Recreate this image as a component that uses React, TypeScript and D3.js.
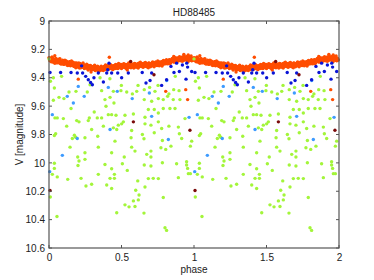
import React from "react";
import * as d3 from "d3";

// one cycle of [phase, V mag]; the plot shows it twice (phase 0-2)
const orangePts: number[][] = [
  [0.004, 9.262], [0.010, 9.281], [0.016, 9.270], [0.022, 9.255], [0.028, 9.290], [0.034, 9.273], [0.040, 9.284], [0.046, 9.266],
  [0.052, 9.295], [0.058, 9.278], [0.064, 9.288], [0.070, 9.270], [0.076, 9.300], [0.082, 9.283], [0.088, 9.294], [0.094, 9.276],
  [0.100, 9.305], [0.106, 9.288], [0.112, 9.298], [0.118, 9.281], [0.124, 9.310], [0.130, 9.292], [0.136, 9.303], [0.142, 9.286],
  [0.148, 9.316], [0.154, 9.297], [0.160, 9.308], [0.166, 9.291], [0.172, 9.320], [0.178, 9.302], [0.184, 9.313], [0.190, 9.296],
  [0.196, 9.325], [0.202, 9.306], [0.208, 9.318], [0.214, 9.300], [0.220, 9.330], [0.226, 9.311], [0.232, 9.322], [0.238, 9.306],
  [0.244, 9.335], [0.250, 9.316], [0.256, 9.327], [0.262, 9.310], [0.268, 9.338], [0.274, 9.320], [0.280, 9.331], [0.286, 9.314],
  [0.292, 9.343], [0.298, 9.324], [0.304, 9.336], [0.310, 9.318], [0.316, 9.346], [0.322, 9.328], [0.328, 9.340], [0.334, 9.322],
  [0.340, 9.350], [0.346, 9.330], [0.352, 9.341], [0.358, 9.323], [0.364, 9.345], [0.370, 9.327], [0.376, 9.338], [0.382, 9.320],
  [0.388, 9.342], [0.394, 9.324], [0.400, 9.335], [0.406, 9.316], [0.412, 9.338], [0.418, 9.320], [0.424, 9.331], [0.430, 9.313],
  [0.436, 9.336], [0.442, 9.318], [0.448, 9.329], [0.454, 9.311], [0.460, 9.334], [0.466, 9.325], [0.472, 9.308], [0.478, 9.331],
  [0.484, 9.314], [0.490, 9.325], [0.496, 9.307], [0.502, 9.330], [0.508, 9.312], [0.514, 9.323], [0.520, 9.305], [0.526, 9.328],
  [0.532, 9.311], [0.538, 9.322], [0.544, 9.304], [0.550, 9.327], [0.556, 9.309], [0.562, 9.320], [0.568, 9.302], [0.574, 9.325],
  [0.580, 9.308], [0.586, 9.319], [0.592, 9.301], [0.598, 9.324], [0.604, 9.307], [0.610, 9.318], [0.616, 9.300], [0.622, 9.323],
  [0.628, 9.306], [0.634, 9.317], [0.640, 9.299], [0.646, 9.322], [0.652, 9.305], [0.658, 9.316], [0.664, 9.298], [0.670, 9.320],
  [0.676, 9.303], [0.682, 9.314], [0.688, 9.296], [0.694, 9.318], [0.700, 9.301], [0.706, 9.312], [0.712, 9.294], [0.718, 9.316],
  [0.724, 9.299], [0.730, 9.309], [0.736, 9.291], [0.742, 9.313], [0.748, 9.296], [0.754, 9.306], [0.760, 9.288], [0.766, 9.310],
  [0.772, 9.292], [0.778, 9.302], [0.784, 9.284], [0.790, 9.305], [0.796, 9.287], [0.802, 9.297], [0.808, 9.279], [0.814, 9.300],
  [0.820, 9.282], [0.826, 9.292], [0.832, 9.274], [0.838, 9.295], [0.844, 9.277], [0.850, 9.286], [0.856, 9.268], [0.862, 9.289],
  [0.868, 9.271], [0.874, 9.281], [0.880, 9.263], [0.886, 9.284], [0.892, 9.266], [0.898, 9.276], [0.904, 9.258], [0.910, 9.280],
  [0.916, 9.262], [0.922, 9.272], [0.928, 9.254], [0.934, 9.276], [0.940, 9.259], [0.946, 9.270], [0.952, 9.252], [0.958, 9.276],
  [0.964, 9.260], [0.970, 9.271], [0.976, 9.255], [0.982, 9.279], [0.988, 9.262], [0.994, 9.273],
  [0.000, 9.258], [0.005, 9.279], [0.010, 9.269], [0.015, 9.288], [0.020, 9.256], [0.025, 9.277], [0.030, 9.287], [0.035, 9.270],
  [0.040, 9.298], [0.045, 9.278], [0.050, 9.266], [0.055, 9.287], [0.060, 9.295], [0.065, 9.274], [0.070, 9.288], [0.075, 9.265],
  [0.080, 9.295], [0.085, 9.304], [0.090, 9.283], [0.095, 9.289], [0.100, 9.279], [0.105, 9.305], [0.110, 9.276], [0.115, 9.300],
  [0.120, 9.297], [0.125, 9.287], [0.130, 9.314], [0.135, 9.295], [0.140, 9.308], [0.145, 9.286], [0.150, 9.305], [0.155, 9.282],
  [0.160, 9.314], [0.165, 9.304], [0.170, 9.298], [0.175, 9.321], [0.180, 9.296], [0.185, 9.329], [0.190, 9.304], [0.195, 9.318],
  [0.200, 9.316], [0.205, 9.296], [0.210, 9.331], [0.215, 9.310], [0.220, 9.305], [0.225, 9.327], [0.230, 9.316], [0.235, 9.296],
  [0.240, 9.326], [0.245, 9.333], [0.250, 9.314], [0.255, 9.324], [0.260, 9.305], [0.265, 9.333], [0.270, 9.345], [0.275, 9.313],
  [0.280, 9.328], [0.285, 9.323], [0.290, 9.343], [0.295, 9.321], [0.300, 9.343], [0.305, 9.320], [0.310, 9.335], [0.315, 9.312],
  [0.320, 9.349], [0.325, 9.330], [0.330, 9.342], [0.335, 9.319], [0.340, 9.335], [0.345, 9.354], [0.350, 9.328], [0.355, 9.345],
  [0.360, 9.318], [0.365, 9.338], [0.370, 9.331], [0.375, 9.349], [0.380, 9.320], [0.385, 9.337], [0.390, 9.309], [0.395, 9.332],
  [0.400, 9.323], [0.405, 9.344], [0.410, 9.314], [0.415, 9.329], [0.420, 9.336], [0.425, 9.308], [0.430, 9.332], [0.435, 9.322],
  [0.440, 9.343], [0.445, 9.315], [0.450, 9.323], [0.455, 9.335], [0.460, 9.307], [0.465, 9.328], [0.470, 9.314], [0.475, 9.335],
  [0.480, 9.300], [0.485, 9.324], [0.490, 9.328], [0.495, 9.307], [0.500, 9.335], [0.505, 9.314], [0.510, 9.326], [0.515, 9.301],
  [0.520, 9.318], [0.525, 9.330], [0.530, 9.306], [0.535, 9.337], [0.540, 9.310], [0.545, 9.319], [0.550, 9.296], [0.555, 9.325],
  [0.560, 9.314], [0.565, 9.330], [0.570, 9.302], [0.575, 9.319], [0.580, 9.306], [0.585, 9.332], [0.590, 9.299], [0.595, 9.313],
  [0.600, 9.304], [0.605, 9.325], [0.610, 9.310], [0.615, 9.331], [0.620, 9.297], [0.625, 9.318], [0.630, 9.290], [0.635, 9.314],
  [0.640, 9.321], [0.645, 9.305], [0.650, 9.326], [0.655, 9.298], [0.660, 9.311], [0.665, 9.293], [0.670, 9.317], [0.675, 9.322],
  [0.680, 9.305], [0.685, 9.329], [0.690, 9.298], [0.695, 9.312], [0.700, 9.322], [0.705, 9.299], [0.710, 9.309], [0.715, 9.288],
  [0.720, 9.315], [0.725, 9.323], [0.730, 9.301], [0.735, 9.291], [0.740, 9.309], [0.745, 9.314], [0.750, 9.282], [0.755, 9.301],
  [0.760, 9.315], [0.765, 9.293], [0.770, 9.305], [0.775, 9.286], [0.780, 9.317], [0.785, 9.293], [0.790, 9.278], [0.795, 9.298],
  [0.800, 9.285], [0.805, 9.301], [0.810, 9.272], [0.815, 9.292], [0.820, 9.302], [0.825, 9.284], [0.830, 9.272], [0.835, 9.301],
  [0.840, 9.276], [0.845, 9.287], [0.850, 9.264], [0.855, 9.279], [0.860, 9.288], [0.865, 9.255], [0.870, 9.279], [0.875, 9.269],
  [0.880, 9.288], [0.885, 9.261], [0.890, 9.269], [0.895, 9.280], [0.900, 9.251], [0.905, 9.271], [0.910, 9.276], [0.915, 9.256],
  [0.920, 9.284], [0.925, 9.261], [0.930, 9.246], [0.935, 9.271], [0.940, 9.264], [0.945, 9.251], [0.950, 9.277], [0.955, 9.257],
  [0.960, 9.286], [0.965, 9.250], [0.970, 9.268], [0.975, 9.275], [0.980, 9.247], [0.985, 9.280], [0.990, 9.266], [0.995, 9.275],
  [0.930, 9.235], [0.960, 9.240], [0.040, 9.245], [0.860, 9.250], [0.416, 9.255], [0.290, 9.360], [0.540, 9.345],
  [0.202, 9.410], [0.943, 9.484], [0.956, 9.554], [0.805, 9.496],
];

const bluePts: number[][] = [
  [0.007, 9.363], [0.080, 9.363], [0.152, 9.363], [0.195, 9.367], [0.225, 9.316], [0.232, 9.367], [0.253, 9.390],
  [0.271, 9.414], [0.287, 9.433], [0.299, 9.449], [0.310, 9.400], [0.340, 9.367], [0.375, 9.430], [0.398, 9.367],
  [0.414, 9.297], [0.405, 9.344], [0.432, 9.367], [0.474, 9.367], [0.501, 9.400], [0.547, 9.367], [0.643, 9.363],
  [0.669, 9.437], [0.697, 9.419], [0.708, 9.367], [0.811, 9.414], [0.862, 9.363], [0.899, 9.356], [0.950, 9.297],
  [0.956, 9.325], [0.945, 9.410], [0.777, 9.454], [0.841, 9.320], [0.880, 9.297], [0.920, 9.310], [0.984, 9.356],
];

const lightBluePts: number[][] = [
  [0.202, 9.461], [0.126, 9.531], [0.168, 9.578], [0.243, 9.531], [0.409, 9.468], [0.471, 9.496], [0.574, 9.547],
  [0.692, 9.507], [0.708, 9.672], [0.966, 9.679], [0.023, 9.660], [0.421, 9.765], [0.195, 9.828], [0.092, 9.947],
  [0.823, 9.835], [0.005, 10.062], [0.812, 9.419],
];

const darkRedPts: number[][] = [
  [0.563, 9.285], [0.724, 9.379], [0.582, 9.711], [0.972, 9.770], [0.007, 10.195],
];

const greenPts: number[][] = [
  [0.037, 9.472], [0.138, 9.500], [0.186, 9.496], [0.264, 9.500], [0.363, 9.491], [0.444, 9.496], [0.496, 9.491],
  [0.536, 9.500], [0.575, 9.514], [0.605, 9.496], [0.657, 9.484], [0.731, 9.496], [0.827, 9.514], [0.860, 9.484],
  [0.897, 9.491], [0.818, 9.531], [0.857, 9.554], [0.903, 9.554], [0.030, 9.559], [0.069, 9.538], [0.103, 9.547],
  [0.386, 9.554], [0.421, 9.538], [0.448, 9.578], [0.657, 9.554], [0.708, 9.566], [0.754, 9.547], [0.788, 9.554],
  [0.152, 9.617], [0.312, 9.641], [0.393, 9.601], [0.409, 9.660], [0.432, 9.660], [0.462, 9.664], [0.524, 9.664],
  [0.582, 9.655], [0.662, 9.678], [0.685, 9.624], [0.726, 9.624], [0.754, 9.648], [0.788, 9.617], [0.834, 9.617],
  [0.869, 9.617], [0.938, 9.688], [0.041, 9.683], [0.057, 9.683], [0.099, 9.688], [0.191, 9.702], [0.207, 9.711],
  [0.278, 9.683], [0.271, 9.702], [0.333, 9.683], [0.363, 9.683], [0.375, 9.741], [0.478, 9.734], [0.501, 9.725],
  [0.513, 9.711], [0.444, 9.753], [0.570, 9.772], [0.662, 9.725], [0.703, 9.734], [0.754, 9.711], [0.777, 9.758],
  [0.827, 9.741], [0.892, 9.748], [0.122, 9.741], [0.046, 9.795], [0.037, 9.807], [0.294, 9.765], [0.467, 9.765],
  [0.644, 9.800], [0.655, 9.830], [0.726, 9.788], [0.899, 9.795], [0.175, 9.805], [0.184, 9.819], [0.161, 9.828],
  [0.248, 9.823], [0.336, 9.812], [0.455, 9.847], [0.566, 9.823], [0.782, 9.842], [0.841, 9.882], [0.805, 9.905],
  [0.915, 9.828], [0.984, 9.847], [0.975, 9.882], [0.145, 9.889], [0.340, 9.889], [0.570, 9.889], [0.593, 9.917],
  [0.432, 9.929], [0.248, 9.929], [0.674, 9.940], [0.703, 9.917], [0.772, 9.893], [0.198, 9.959], [0.207, 9.987],
  [0.248, 9.975], [0.506, 10.006], [0.519, 9.959], [0.703, 9.959], [0.782, 9.999], [0.880, 10.006], [0.949, 9.992],
  [0.037, 10.003], [0.037, 10.039], [0.023, 10.081], [0.057, 10.099], [0.129, 10.116], [0.200, 10.018], [0.221, 10.109],
  [0.255, 10.163], [0.294, 10.151], [0.340, 10.081], [0.386, 10.011], [0.398, 10.156], [0.421, 10.109], [0.451, 10.109],
  [0.451, 10.081], [0.432, 10.181], [0.432, 10.041], [0.540, 10.053], [0.612, 10.127], [0.598, 10.193], [0.621, 10.226],
  [0.582, 10.268], [0.616, 10.261], [0.662, 10.170], [0.685, 10.111], [0.719, 10.109], [0.754, 10.111], [0.657, 10.015],
  [0.703, 10.022], [0.788, 10.244], [0.892, 10.104], [0.949, 10.015], [0.956, 10.039], [0.961, 10.076], [0.975, 10.076],
  [0.009, 10.240], [0.055, 10.378], [0.524, 10.296], [0.552, 10.310], [0.593, 10.308], [0.467, 10.352], [0.655, 10.354],
  [0.800, 10.457], [0.811, 10.476],
  [0.000, 9.267], [0.030, 9.400], [0.087, 9.390], [0.010, 9.425], [0.283, 9.449], [0.352, 9.400], [0.420, 9.407],
  [0.871, 9.390], [0.499, 9.454], [0.614, 9.454], [0.694, 9.468], [0.752, 9.454],
];

const xTicks = [0, 0.5, 1, 1.5, 2];
const yTicks = [9, 9.2, 9.4, 9.6, 9.8, 10, 10.2, 10.4, 10.6];

// repeat the cycle at phase + 1
const fold = (pts: number[][]) =>
  pts.concat(pts.map((d) => [d[0] + 1, d[1]])).filter((d) => d[0] <= 2);

function drawChart(svg: any) {
  const width = 374;
  const height = 280;
  const margin = { top: 21, right: 35, bottom: 32, left: 49 };
  svg.selectAll("*").remove();

  const x = d3.scaleLinear().domain([0, 2]).range([margin.left, width - margin.right]);
  const y = d3.scaleLinear().domain([9, 10.6]).range([margin.top, height - margin.bottom]);

  const font = "'Liberation Sans', Arial, sans-serif";

  const groups = [
    { pts: orangePts, color: "#ff4d00" },
    { pts: greenPts, color: "#a3f53a" },
    { pts: lightBluePts, color: "#3d9bff" },
    { pts: bluePts, color: "#0a14d6" },
    { pts: darkRedPts, color: "#7a0a0a" },
  ];

  groups.forEach((g) => {
    svg
      .append("g")
      .selectAll("circle")
      .data(fold(g.pts))
      .join("circle")
      .attr("cx", (d: number[]) => x(d[0]))
      .attr("cy", (d: number[]) => y(d[1]))
      .attr("r", 1.7)
      .attr("fill", g.color);
  });

  const axisColor = "#555";
  const tick = 3;

  // frame
  svg
    .append("rect")
    .attr("x", x(0))
    .attr("y", y(9))
    .attr("width", x(2) - x(0))
    .attr("height", y(10.6) - y(9))
    .attr("fill", "none")
    .attr("stroke", axisColor)
    .attr("stroke-width", 1.2);

  const bottom = d3.axisBottom(x).tickValues(xTicks).tickSize(0).tickFormat(d3.format("~g"));
  const left = d3.axisLeft(y).tickValues(yTicks).tickSize(0).tickFormat(d3.format("~g"));

  svg
    .append("g")
    .attr("transform", `translate(0,${y(10.6)})`)
    .call(bottom)
    .call((g: any) => g.select(".domain").remove())
    .call((g: any) =>
      g.selectAll("text").attr("dy", "0.95em").attr("fill", "#222").style("font-size", "10px").style("font-family", font)
    );

  svg
    .append("g")
    .attr("transform", `translate(${x(0)},0)`)
    .call(left)
    .call((g: any) => g.select(".domain").remove())
    .call((g: any) =>
      g.selectAll("text").attr("x", -4).attr("fill", "#222").style("font-size", "10px").style("font-family", font)
    );

  // inward ticks on all four sides
  const tk = svg.append("g").attr("stroke", axisColor).attr("stroke-width", 1);
  xTicks.forEach((v) => {
    tk.append("line").attr("x1", x(v)).attr("x2", x(v)).attr("y1", y(10.6)).attr("y2", y(10.6) - tick);
    tk.append("line").attr("x1", x(v)).attr("x2", x(v)).attr("y1", y(9)).attr("y2", y(9) + tick);
  });
  yTicks.forEach((v) => {
    tk.append("line").attr("x1", x(0)).attr("x2", x(0) + tick).attr("y1", y(v)).attr("y2", y(v));
    tk.append("line").attr("x1", x(2)).attr("x2", x(2) - tick).attr("y1", y(v)).attr("y2", y(v));
  });

  svg
    .append("text")
    .attr("x", (x(0) + x(2)) / 2)
    .attr("y", 16)
    .attr("text-anchor", "middle")
    .attr("fill", "#222")
    .style("font-size", "10px")
    .style("font-family", font)
    .text("HD88485");

  svg
    .append("text")
    .attr("x", (x(0) + x(2)) / 2)
    .attr("y", 273)
    .attr("text-anchor", "middle")
    .attr("fill", "#222")
    .style("font-size", "10px")
    .style("font-family", font)
    .text("phase");

  svg
    .append("text")
    .attr("transform", `translate(23,${(y(9) + y(10.6)) / 2}) rotate(-90)`)
    .attr("text-anchor", "middle")
    .attr("fill", "#222")
    .style("font-size", "10px")
    .style("font-family", font)
    .text("V [magnitude]");
}

export default function App() {
  const ref = React.useRef<SVGSVGElement>(null);
  React.useEffect(() => {
    drawChart(d3.select(ref.current));
  }, []);
  return (
    <svg
      ref={ref}
      width={374}
      height={280}
      style={{ position: "absolute", left: 0, top: 0, background: "#fff" }}
    />
  );
}
